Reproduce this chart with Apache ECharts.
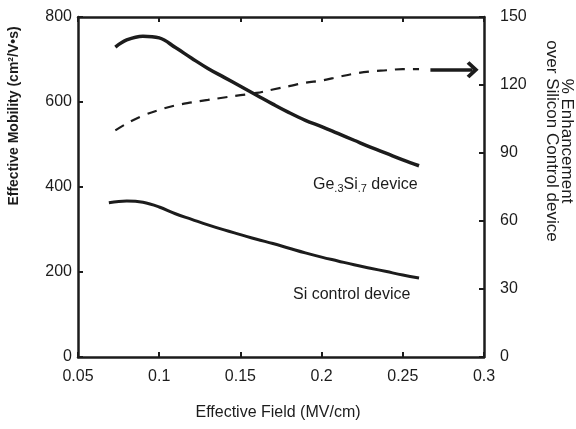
<!DOCTYPE html>
<html>
<head>
<meta charset="utf-8">
<script src="https://cdn.jsdelivr.net/npm/echarts@6/dist/echarts.min.js"></script>
<style>
    html, body { margin: 0; padding: 0; background: #fff; }
    #chart { width: 576px; height: 429px; }
</style>
</head>
<body>
<div id="chart"></div>
<script>
    // values
    const geField = [0.073, 0.08, 0.09, 0.1, 0.11, 0.12, 0.13, 0.14, 0.15, 0.16, 0.17, 0.18, 0.19, 0.2, 0.21, 0.22, 0.23, 0.24, 0.25, 0.26];
    const geMobility = [729, 746, 755, 751, 728, 703, 679, 658, 637, 616, 595, 575, 557, 542, 526, 510, 494, 479, 464, 450];

    const siField = [0.069, 0.08, 0.09, 0.1, 0.11, 0.12, 0.13, 0.14, 0.15, 0.16, 0.17, 0.18, 0.19, 0.2, 0.21, 0.22, 0.23, 0.24, 0.25, 0.26];
    const siMobility = [363, 367, 364, 353, 337, 324, 311, 299, 288, 277, 267, 256, 245, 235, 226, 217, 209, 201, 193, 186];

    const enhField = [0.073, 0.08, 0.09, 0.1, 0.11, 0.12, 0.13, 0.14, 0.15, 0.16, 0.17, 0.18, 0.19, 0.2, 0.21, 0.22, 0.23, 0.24, 0.25, 0.26];
    const enhPercent = [100, 103, 106.5, 109, 111, 112.3, 113.4, 114.5, 115.5, 116.5, 118, 119.5, 121, 122, 123.5, 125, 126, 126.5, 127, 127];

    const arrowField = [0.267, 0.293];
    const arrowPercent = 126.7;

    const font = 'Liberation Sans, Arial, sans-serif';
    const ink = '#1c1c1c';

    const pairs = (xs, ys) => xs.map((x, i) => [x, ys[i]]);

    const chart = echarts.init(document.getElementById('chart'));
    chart.setOption({
        backgroundColor: '#fff',
        animation: false,
        grid: { left: 78, right: 92, top: 17, bottom: 72 },
        xAxis: [
            {
                type: 'value', min: 0.05, max: 0.3, interval: 0.05,
                axisLine: { lineStyle: { color: ink, width: 2.5 } },
                axisTick: { inside: true, length: 5, lineStyle: { color: ink, width: 2 } },
                axisLabel: { color: ink, fontFamily: font, fontSize: 16, margin: 12,
                    showMinLabel: true, showMaxLabel: true },
                splitLine: { show: false }
            },
            {
                type: 'value', position: 'top', min: 0.05, max: 0.3, interval: 0.05,
                axisLine: { show: true, onZero: false, lineStyle: { color: ink, width: 2.5 } },
                axisTick: { inside: true, length: 5, lineStyle: { color: ink, width: 2 } },
                axisLabel: { show: false },
                splitLine: { show: false }
            }
        ],
        yAxis: [
            {
                type: 'value', min: 0, max: 800, interval: 200,
                axisLine: { show: true, onZero: false, lineStyle: { color: ink, width: 2.5 } },
                axisTick: { show: true, inside: true, length: 5, lineStyle: { color: ink, width: 2 } },
                axisLabel: { color: ink, fontFamily: font, fontSize: 16, margin: 6 },
                splitLine: { show: false }
            },
            {
                type: 'value', position: 'right', min: 0, max: 150, interval: 30,
                axisLine: { show: true, onZero: false, lineStyle: { color: ink, width: 2.5 } },
                axisTick: { show: true, inside: true, length: 5, lineStyle: { color: ink, width: 2 } },
                axisLabel: { color: ink, fontFamily: font, fontSize: 16, margin: 16 },
                splitLine: { show: false }
            }
        ],
        series: [
            {
                name: 'Ge.3Si.7 device', type: 'line', smooth: 0.4, showSymbol: false,
                data: pairs(geField, geMobility),
                lineStyle: { color: ink, width: 3.5 }
            },
            {
                name: 'Si control device', type: 'line', smooth: 0.4, showSymbol: false,
                data: pairs(siField, siMobility),
                lineStyle: { color: ink, width: 3 }
            },
            {
                name: '% Enhancement', type: 'line', smooth: 0.4, showSymbol: false, yAxisIndex: 1,
                data: pairs(enhField, enhPercent),
                lineStyle: { color: ink, width: 2.2, type: [10, 8] },
                markLine: {
                    silent: true,
                    symbol: ['none', 'path://M0,10 L10,0 L20,10 L17,13 L10,6 L3,13 Z'],
                    symbolSize: [17, 12],
                    label: { show: false },
                    lineStyle: { color: ink, width: 3.5, type: 'solid' },
                    data: [[{ coord: [arrowField[0], arrowPercent] }, { coord: [arrowField[1], arrowPercent] }]]
                }
            }
        ],
        graphic: [
            {
                type: 'text', x: 14, y: 116, rotation: Math.PI / 2,
                style: { text: 'Effective Mobility (cm²/V•s)', fill: ink, font: 'bold 14px ' + font,
                    align: 'center', verticalAlign: 'middle' }
            },
            {
                type: 'text', x: 559, y: 141, rotation: -Math.PI / 2,
                style: { text: '% Enhancement\nover Silicon Control device', fill: ink, font: '17px ' + font,
                    align: 'center', verticalAlign: 'middle', lineHeight: 15 }
            },
            {
                type: 'text', x: 278, y: 413,
                style: { text: 'Effective Field (MV/cm)', fill: ink, font: '16px ' + font,
                    align: 'center', verticalAlign: 'middle' }
            },
            {
                type: 'text', x: 313, y: 185,
                style: {
                    text: '{n|Ge}{s|.3}{n|Si}{s|.7}{n| device}', verticalAlign: 'middle',
                    rich: {
                        n: { fill: ink, fontFamily: font, fontSize: 16 },
                        s: { fill: ink, fontFamily: font, fontSize: 11, padding: [8, 0, 0, 0] }
                    }
                }
            },
            {
                type: 'text', x: 293, y: 295,
                style: { text: 'Si control device', fill: ink, font: '16px ' + font, verticalAlign: 'middle' }
            }
        ]
    });
</script>
</body>
</html>
